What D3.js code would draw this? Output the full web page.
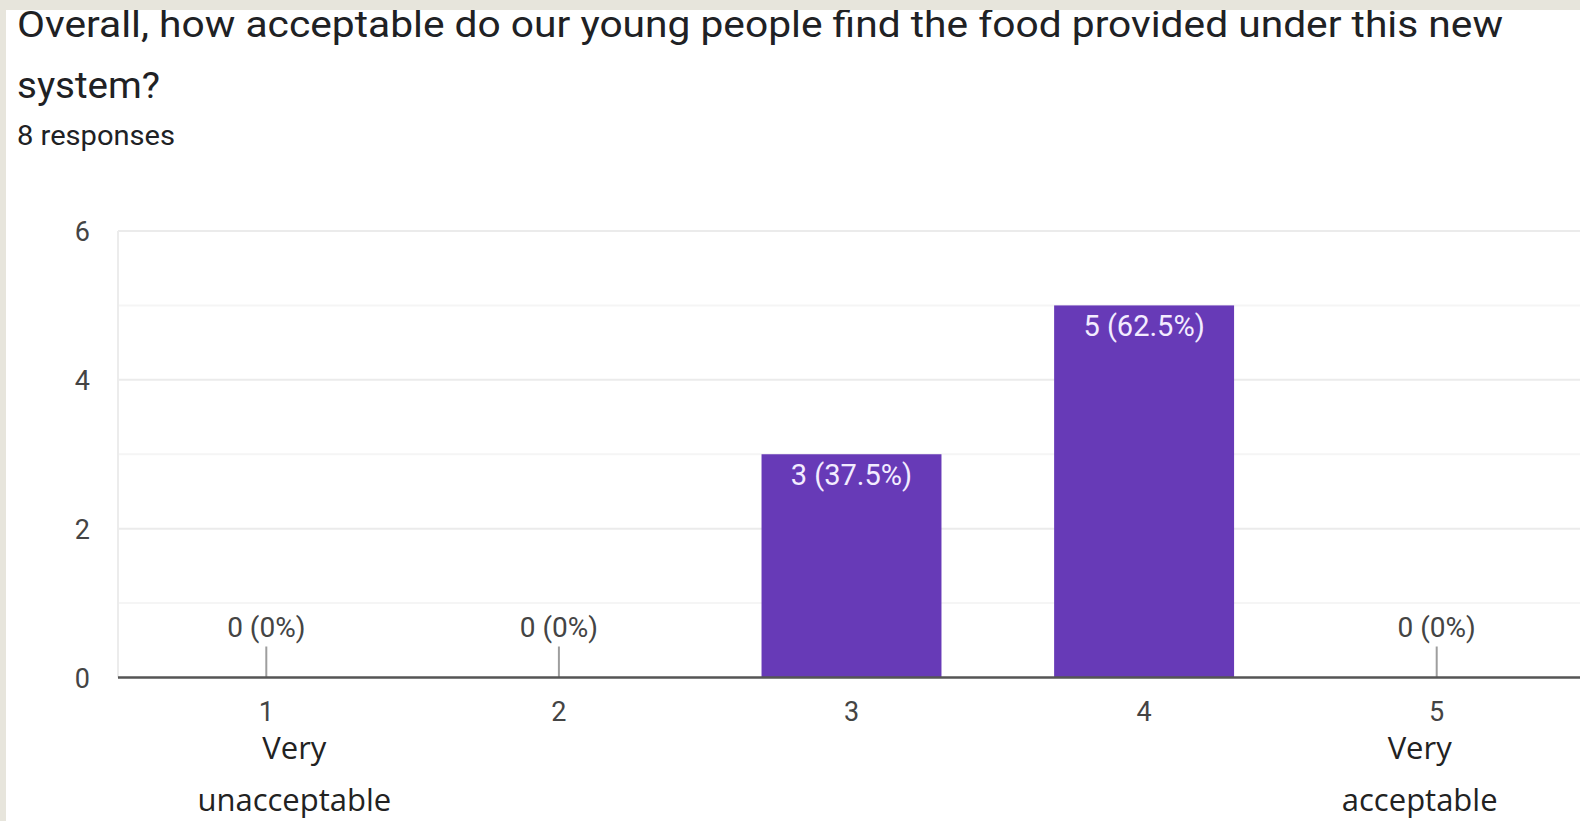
<!DOCTYPE html>
<html>
<head>
<meta charset="utf-8">
<script src="https://cdn.jsdelivr.net/npm/d3@7"></script>
<style>
  html, body { margin: 0; padding: 0; background: #fff; overflow: hidden; }
  svg { display: block; }
</style>
</head>
<body>
<script>
// survey answers
var categories = ['1', '2', '3', '4', '5'];
var counts = [0, 0, 3, 5, 0];
var percents = ['0%', '0%', '37.5%', '62.5%', '0%'];
var yTicks = [0, 2, 4, 6];
var minorTicks = [1, 3, 5];
var titleLines = ['Overall, how acceptable do our young people find the food provided under this new', 'system?'];
var subtitle = '8 responses';
// end labels written under the axis
var endNotes = [
  { cat: '1', lines: ['Very', 'unacceptable'] },
  { cat: '5', lines: ['Very', 'acceptable'] }
];

var W = 1580, H = 821;
var svg = d3.select('body').append('svg').attr('width', W).attr('height', H);

var x = d3.scaleBand().domain(categories).range([120, 1583]).paddingInner(0.385).paddingOuter(0.1925);
var y = d3.scaleLinear().domain([0, 6]).range([677.5, 231]);

// title (the scan font is wider than Roboto, so stretch to fit)
var titleWidths = [1486, 143];
svg.selectAll('text.title').data(titleLines).enter().append('text')
  .attr('class', 'title')
  .attr('x', 17)
  .attr('y', function (d, i) { return 37 + i * 61; })
  .attr('font-family', 'Roboto, sans-serif')
  .attr('font-size', 36)
  .attr('fill', '#202124')
  .attr('textLength', function (d, i) { return titleWidths[i]; })
  .attr('lengthAdjust', 'spacingAndGlyphs')
  .text(function (d) { return d; });

svg.append('text')
  .attr('x', 17).attr('y', 145)
  .attr('font-family', 'Roboto, sans-serif')
  .attr('font-size', 27)
  .attr('fill', '#202124')
  .attr('textLength', 158)
  .attr('lengthAdjust', 'spacingAndGlyphs')
  .text(subtitle);

// grid
svg.selectAll('line.minor').data(minorTicks).enter().append('line')
  .attr('x1', 118).attr('x2', W)
  .attr('y1', function (d) { return y(d); }).attr('y2', function (d) { return y(d); })
  .attr('stroke', '#f5f5f5').attr('stroke-width', 2);

svg.selectAll('line.major').data(yTicks.slice(1)).enter().append('line')
  .attr('x1', 118).attr('x2', W)
  .attr('y1', function (d) { return y(d); }).attr('y2', function (d) { return y(d); })
  .attr('stroke', '#ebebeb').attr('stroke-width', 2);

svg.append('line')
  .attr('x1', 118).attr('x2', 118).attr('y1', y(6)).attr('y2', y(0))
  .attr('stroke', '#ececec').attr('stroke-width', 2);

// y axis
var yAxis = d3.axisLeft(y).tickValues(yTicks).tickFormat(d3.format('d')).tickSize(0).tickPadding(0);
var gy = svg.append('g').attr('transform', 'translate(90,0)').call(yAxis);
gy.select('.domain').remove();
gy.selectAll('text')
  .attr('font-family', 'Roboto, sans-serif')
  .attr('font-size', 27)
  .attr('fill', '#444')
  .attr('dy', '0.36em');

// bars
svg.selectAll('rect.bar').data(categories).enter().append('rect')
  .attr('class', 'bar')
  .attr('x', function (d) { return x(d); })
  .attr('width', x.bandwidth())
  .attr('y', function (d, i) { return y(counts[i]); })
  .attr('height', function (d, i) { return y(0) - y(counts[i]); })
  .attr('fill', '#673ab7');

// value labels
categories.forEach(function (c, i) {
  var cx = x(c) + x.bandwidth() / 2;
  var label = counts[i] + ' (' + percents[i] + ')';
  if (counts[i] > 0) {
    svg.append('text')
      .attr('x', cx).attr('y', y(counts[i]) + 31)
      .attr('text-anchor', 'middle')
      .attr('font-family', 'Roboto, sans-serif')
      .attr('font-size', 29)
      .attr('fill', '#f3ecff')
      .text(label);
  } else {
    svg.append('line')
      .attr('x1', cx).attr('x2', cx).attr('y1', y(0) - 31).attr('y2', y(0))
      .attr('stroke', '#9e9e9e').attr('stroke-width', 2);
    svg.append('text')
      .attr('x', cx).attr('y', y(0) - 41)
      .attr('text-anchor', 'middle')
      .attr('font-family', 'Roboto, sans-serif')
      .attr('font-size', 28)
      .attr('fill', '#444')
      .text(label);
  }
});

// x axis
var xAxis = d3.axisBottom(x).tickSize(0).tickPadding(0);
var gx = svg.append('g').attr('transform', 'translate(0,' + y(0) + ')').call(xAxis);
gx.select('.domain').remove();
gx.selectAll('text')
  .attr('font-family', 'Roboto, sans-serif')
  .attr('font-size', 27)
  .attr('fill', '#444')
  .attr('dy', 0)
  .attr('y', 43);

svg.append('line')
  .attr('x1', 118).attr('x2', W).attr('y1', y(0)).attr('y2', y(0))
  .attr('stroke', '#555').attr('stroke-width', 2.5);

// end notes
endNotes.forEach(function (n) {
  var cx = x(n.cat) + x.bandwidth() / 2 + (n.cat === '1' ? 28 : -17);
  svg.selectAll(null).data(n.lines).enter().append('text')
    .attr('x', cx)
    .attr('y', function (d, i) { return 759 + i * 52; })
    .attr('text-anchor', 'middle')
    .attr('font-family', '"Open Sans", sans-serif')
    .attr('font-size', 31)
    .attr('fill', '#222')
    .text(function (d) { return d; });
});

// scan border
svg.append('rect').attr('x', 0).attr('y', 0).attr('width', W).attr('height', 10).attr('fill', '#e7e5dc');
svg.append('rect').attr('x', 0).attr('y', 0).attr('width', 6).attr('height', H).attr('fill', '#e7e5dc');
</script>
</body>
</html>
